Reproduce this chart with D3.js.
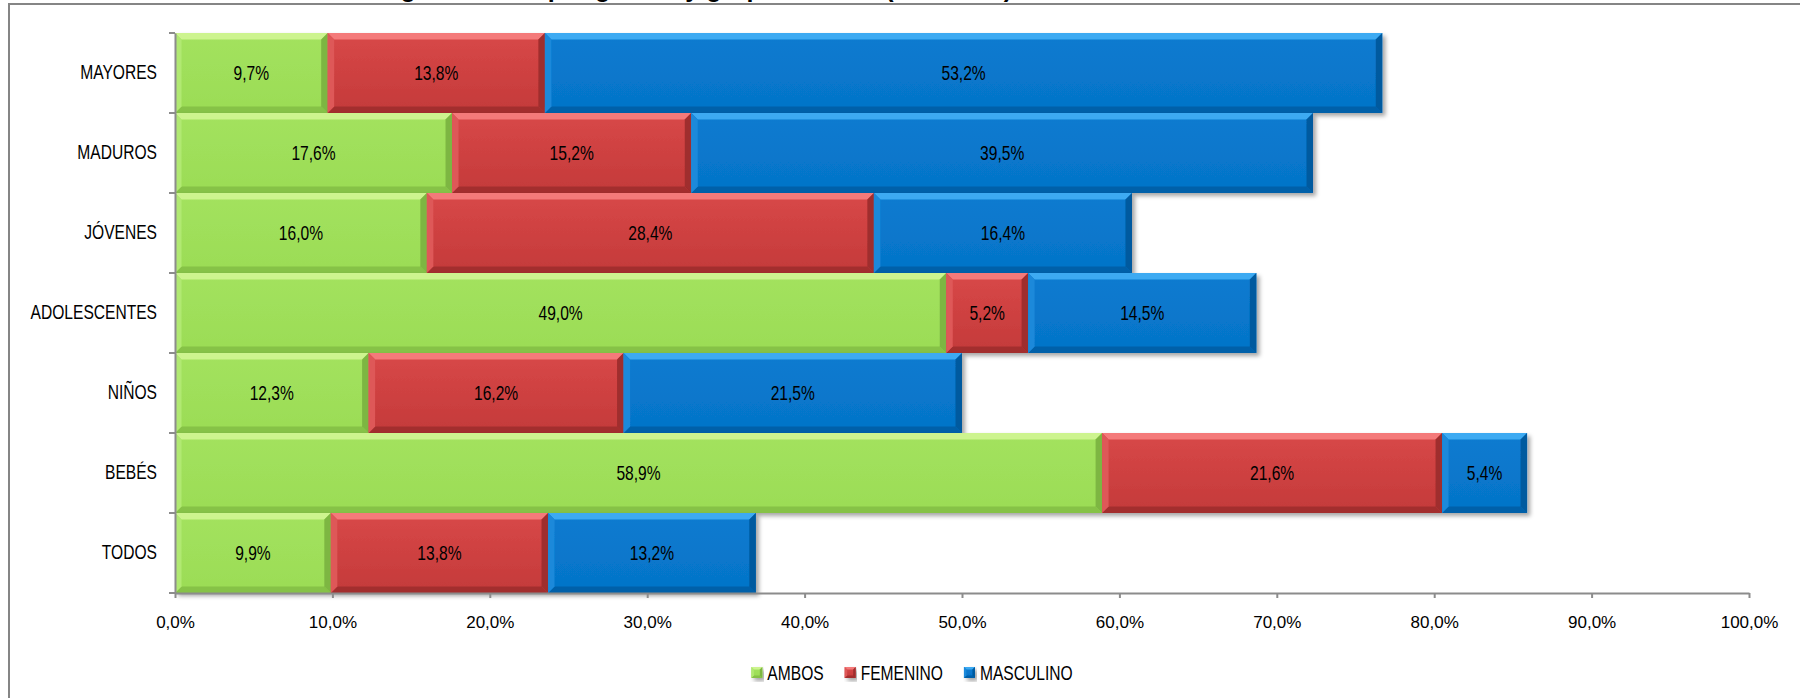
<!DOCTYPE html>
<html lang="es">
<head>
<meta charset="utf-8">
<title>Segmentación por género y grupo de edad</title>
<script src="https://cdn.jsdelivr.net/npm/d3@7/dist/d3.min.js"></script>
<style>
  html, body { margin: 0; padding: 0; background: #ffffff; overflow: hidden; }
  svg { display: block; }
</style>
</head>
<body>
<svg id="chart" width="1800" height="698"></svg>
<script>
// Grupos de edad, de arriba abajo
const categories = ["MAYORES", "MADUROS", "JÓVENES", "ADOLESCENTES", "NIÑOS", "BEBÉS", "TODOS"];
const seriesNames = ["AMBOS", "FEMENINO", "MASCULINO"];
// Porcentajes por serie (mismo orden que categories)
const ambos     = [9.7, 17.6, 16.0, 49.0, 12.3, 58.9, 9.9];
const femenino  = [13.8, 15.2, 28.4, 5.2, 16.2, 21.6, 13.8];
const masculino = [53.2, 39.5, 16.4, 14.5, 21.5, 5.4, 13.2];
const xTicks = [0, 10, 20, 30, 40, 50, 60, 70, 80, 90, 100];
const titleText = "Segmentación por género y grupo de edad (% TOTAL)";

const W = 1800, H = 698;
const margin = { left: 175, right: 51, top: 33, bottom: 105 };

// Condensed lettering: regular sans squeezed horizontally
const NARROW = 0.78;
const narrowFont = "'Liberation Sans', Arial, sans-serif";
const narrowSize = 20;

const palette = {
  AMBOS:     { face: ["#a3e25e", "#9bdc56"], top: "#cdf48f", left: "#b1e972", bottom: "#86c247", right: "#7db642" },
  FEMENINO:  { face: ["#d84848", "#c43a3a"], top: "#f47a7a", left: "#de5858", bottom: "#a32f2f", right: "#9f2d2d" },
  MASCULINO: { face: ["#0a7bd0", "#0574c8"], top: "#3eaaf2", left: "#1b89da", bottom: "#0561a9", right: "#055a9f" }
};

const rows = categories.map((c, i) => {
  const vals = [ambos[i], femenino[i], masculino[i]];
  let acc = 0;
  return {
    cat: c,
    segs: vals.map((v, k) => {
      const s = { name: seriesNames[k], v: v, x0: acc, x1: acc + v };
      acc += v;
      return s;
    })
  };
});

const svg = d3.select("#chart");
const defs = svg.append("defs");

const shadow = defs.append("filter").attr("id", "shadow")
  .attr("x", "-5%").attr("y", "-20%").attr("width", "115%").attr("height", "150%");
shadow.append("feDropShadow").attr("dx", 3).attr("dy", 3).attr("stdDeviation", 2.2)
  .attr("flood-color", "#000").attr("flood-opacity", 0.35);

seriesNames.forEach(n => {
  const g = defs.append("linearGradient").attr("id", "face-" + n)
    .attr("x1", 0).attr("y1", 0).attr("x2", 0).attr("y2", 1);
  g.append("stop").attr("offset", "0%").attr("stop-color", palette[n].face[0]);
  g.append("stop").attr("offset", "100%").attr("stop-color", palette[n].face[1]);
});

// Title (sits above the chart frame)
svg.append("text")
  .attr("x", 370).attr("y", -3)
  .attr("font-family", "'Liberation Sans', Arial, sans-serif")
  .attr("font-weight", "bold").attr("font-size", 25)
  .attr("fill", "#000")
  .text(titleText);

// Chart frame
svg.append("rect")
  .attr("x", 9).attr("y", 4).attr("width", W).attr("height", H)
  .attr("fill", "#fff").attr("stroke", "#858585").attr("stroke-width", 2);

const x = d3.scaleLinear().domain([0, 100]).range([margin.left, W - margin.right]);
const y = d3.scaleBand().domain(categories).range([margin.top, H - margin.bottom]).padding(0);

// Bevelled bar segment
function bevelBar(g, x0, y0, x1, y1, pal, fillId, bev) {
  const w = x1 - x0, h = y1 - y0;
  const b = Math.min(bev || 6.5, w / 2, h / 2);
  g.append("rect").attr("x", x0).attr("y", y0).attr("width", w).attr("height", h)
    .attr("fill", "url(#" + fillId + ")");
  const poly = (pts, fill) => g.append("polygon")
    .attr("points", pts.map(p => p.join(",")).join(" "))
    .attr("fill", fill);
  poly([[x0, y0], [x1, y0], [x1 - b, y0 + b], [x0 + b, y0 + b]], pal.top);
  poly([[x0, y1], [x1, y1], [x1 - b, y1 - b], [x0 + b, y1 - b]], pal.bottom);
  poly([[x0, y0], [x0 + b, y0 + b], [x0 + b, y1 - b], [x0, y1]], pal.left);
  poly([[x1, y0], [x1 - b, y0 + b], [x1 - b, y1 - b], [x1, y1]], pal.right);
}

const barsG = svg.append("g");
rows.forEach(r => {
  const rowG = barsG.append("g").attr("filter", "url(#shadow)");
  const yy0 = y(r.cat), yy1 = y(r.cat) + y.bandwidth();
  r.segs.forEach(s => {
    bevelBar(rowG, x(s.x0), yy0, x(s.x1), yy1, palette[s.name], "face-" + s.name);
  });
});

// Value labels
const fmt = v => v.toFixed(1).replace(".", ",") + "%";
const labelsG = svg.append("g")
  .attr("font-family", narrowFont)
  .attr("font-size", narrowSize).attr("fill", "#000").attr("text-anchor", "middle");
rows.forEach(r => {
  r.segs.forEach(s => {
    labelsG.append("text")
      .attr("transform", `translate(${(x(s.x0) + x(s.x1)) / 2},${y(r.cat) + y.bandwidth() / 2}) scale(${NARROW},1)`)
      .attr("dy", "0.36em")
      .text(fmt(s.v));
  });
});

// X axis
const xAxis = d3.axisBottom(x).tickValues(xTicks).tickFormat(d => fmt(d))
  .tickSize(5).tickSizeOuter(0).tickPadding(18);
const xg = svg.append("g").attr("transform", `translate(0,${H - margin.bottom})`).call(xAxis);
xg.select(".domain").attr("stroke", "#8c8c8c").attr("stroke-width", 2);
xg.selectAll(".tick line").attr("stroke", "#8c8c8c").attr("stroke-width", 2);
xg.selectAll(".tick text")
  .attr("font-family", "'Liberation Sans', Arial, sans-serif")
  .attr("font-size", 17).attr("fill", "#000");

// Y axis: labels centred on bands, ticks on band boundaries
const yPad = 18;
const yAxis = d3.axisLeft(y).tickSize(0).tickPadding(yPad);
const yg = svg.append("g").attr("transform", `translate(${margin.left},0)`).call(yAxis);
yg.select(".domain").attr("stroke", "#8c8c8c").attr("stroke-width", 2);
yg.selectAll(".tick text")
  .attr("font-family", narrowFont)
  .attr("font-size", narrowSize).attr("fill", "#000")
  .attr("x", -yPad / NARROW)
  .attr("transform", `scale(${NARROW},1)`);
const bounds = categories.map(c => y(c)).concat([y(categories[categories.length - 1]) + y.bandwidth()]);
yg.selectAll("line.bound").data(bounds).enter().append("line")
  .attr("class", "bound")
  .attr("x1", -6).attr("x2", 0).attr("y1", d => d).attr("y2", d => d)
  .attr("stroke", "#8c8c8c").attr("stroke-width", 2);

// Legend
const legend = svg.append("g")
  .attr("font-family", narrowFont)
  .attr("font-size", narrowSize).attr("fill", "#000");
let lx = 0;
seriesNames.forEach(n => {
  const it = legend.append("g").attr("transform", `translate(${lx},0)`);
  const mk = it.append("g").attr("filter", "url(#shadow)");
  bevelBar(mk, 0, -11, 11, 0, palette[n], "face-" + n, 2.5);
  const t = it.append("text")
    .attr("transform", `translate(16,0) scale(${NARROW},1)`)
    .attr("dy", "0.12em").text(n);
  const tw = t.node().getComputedTextLength() * NARROW;
  lx += 16 + tw + 21;
});
const totalW = lx - 21;
legend.attr("transform", `translate(${912 - totalW / 2},${678})`);
</script>
</body>
</html>
